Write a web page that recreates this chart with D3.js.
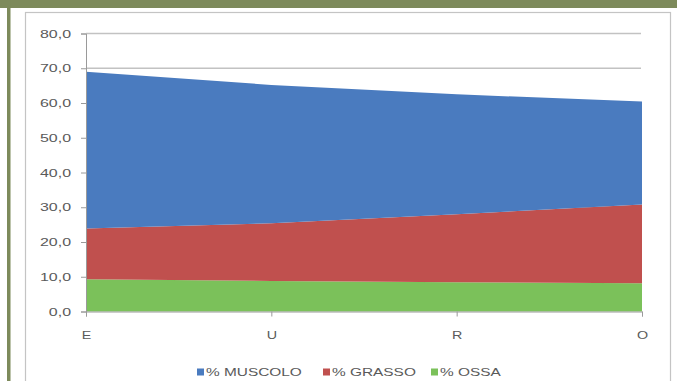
<!DOCTYPE html>
<html>
<head>
<meta charset="utf-8">
<script src="https://cdn.jsdelivr.net/npm/d3@7"></script>
<style>
  html, body { margin: 0; padding: 0; background: #fff; }
  svg { display: block; }
  text { font-family: "Liberation Sans", Arial, sans-serif; fill: #5a5a5a; }
</style>
</head>
<body>
<svg id="chart" width="677" height="381"></svg>
<script>
// Body composition by category (percent values)
const categories = ["E", "U", "R", "O"];
const ossa     = [9.3, 8.8, 8.4, 8.1];
const grasso   = [14.6, 16.6, 19.6, 22.7];
const muscolo  = [45.1, 39.8, 34.5, 29.6];
const yTicks   = [0, 10, 20, 30, 40, 50, 60, 70, 80];

const seriesNames  = ["% MUSCOLO", "% GRASSO", "% OSSA"];
const seriesColors = { "% MUSCOLO": "#4a7bbf", "% GRASSO": "#c0504e", "% OSSA": "#7bc15a" };

const rows = categories.map((c, i) => ({
  cat: c, "% OSSA": ossa[i], "% GRASSO": grasso[i], "% MUSCOLO": muscolo[i]
}));

const svg = d3.select("#chart");

// outer olive frame
svg.append("rect").attr("x", 0).attr("y", 0).attr("width", 677).attr("height", 8).attr("fill", "#7d8a5b");
svg.append("rect").attr("x", 7).attr("y", 0).attr("width", 3.5).attr("height", 381).attr("fill", "#7d8a5b");

// chart panel
svg.append("rect").attr("x", 25.5).attr("y", 12.5).attr("width", 645).attr("height", 380)
  .attr("fill", "#fff").attr("stroke", "#c4c4c4").attr("stroke-width", 1.2);

const x = d3.scalePoint().domain(categories).range([86, 642]);
const y = d3.scaleLinear().domain([0, 80]).range([311.5, 33.5]);

// horizontal gridlines
svg.append("g").selectAll("line").data(yTicks.filter(t => t > 0)).join("line")
  .attr("x1", 86).attr("x2", 641)
  .attr("y1", d => y(d)).attr("y2", d => y(d))
  .attr("stroke", "#c2c2c2").attr("stroke-width", 1.5);

// stacked areas: bones at the bottom, fat, then muscle
const stack = d3.stack().keys(["% OSSA", "% GRASSO", "% MUSCOLO"]);
const layers = stack(rows);
const area = d3.area()
  .x(d => x(d.data.cat))
  .y0(d => y(d[0]))
  .y1(d => y(d[1]));

svg.append("g").selectAll("path").data(layers).join("path")
  .attr("d", area)
  .attr("fill", d => seriesColors[d.key]);

// y axis
const yAxis = svg.append("g").attr("transform", "translate(86,0)")
  .call(d3.axisLeft(y).tickValues(yTicks).tickSize(5).tickPadding(10)
    .tickFormat(d => d3.format(".1f")(d).replace(".", ",")));
yAxis.select(".domain").attr("stroke", "#9a9a9a");
yAxis.selectAll(".tick line").attr("stroke", "#9a9a9a");
yAxis.selectAll("text").attr("font-size", 11).attr("fill", "#5a5a5a")
  .style("font-family", "'Liberation Sans', Arial, sans-serif");

// x axis
const xAxis = svg.append("g").attr("transform", "translate(0,311.5)")
  .call(d3.axisBottom(x).tickSize(5).tickPadding(15));
xAxis.select(".domain").attr("stroke", "#9a9a9a");
xAxis.selectAll(".tick line").attr("stroke", "#9a9a9a");
xAxis.selectAll("text").attr("font-size", 11).attr("fill", "#5a5a5a")
  .style("font-family", "'Liberation Sans', Arial, sans-serif");

// widen axis text glyphs
function widen(sel, factor) {
  sel.each(function() {
    const w = this.getComputedTextLength();
    d3.select(this).attr("textLength", w * factor).attr("lengthAdjust", "spacingAndGlyphs");
  });
}
widen(yAxis.selectAll("text"), 1.45);
widen(xAxis.selectAll("text"), 1.3);

// legend
const legendX = [197, 323, 431];
const legend = svg.append("g").selectAll("g").data(seriesNames).join("g")
  .attr("transform", (d, i) => `translate(${legendX[i]},372)`);
legend.append("rect").attr("x", 0).attr("y", -3.5).attr("width", 7).attr("height", 7)
  .attr("fill", d => seriesColors[d]);
const legendText = legend.append("text").attr("x", 9).attr("y", 4)
  .attr("font-size", 11).text(d => d);
widen(legendText, 1.4);
</script>
</body>
</html>
